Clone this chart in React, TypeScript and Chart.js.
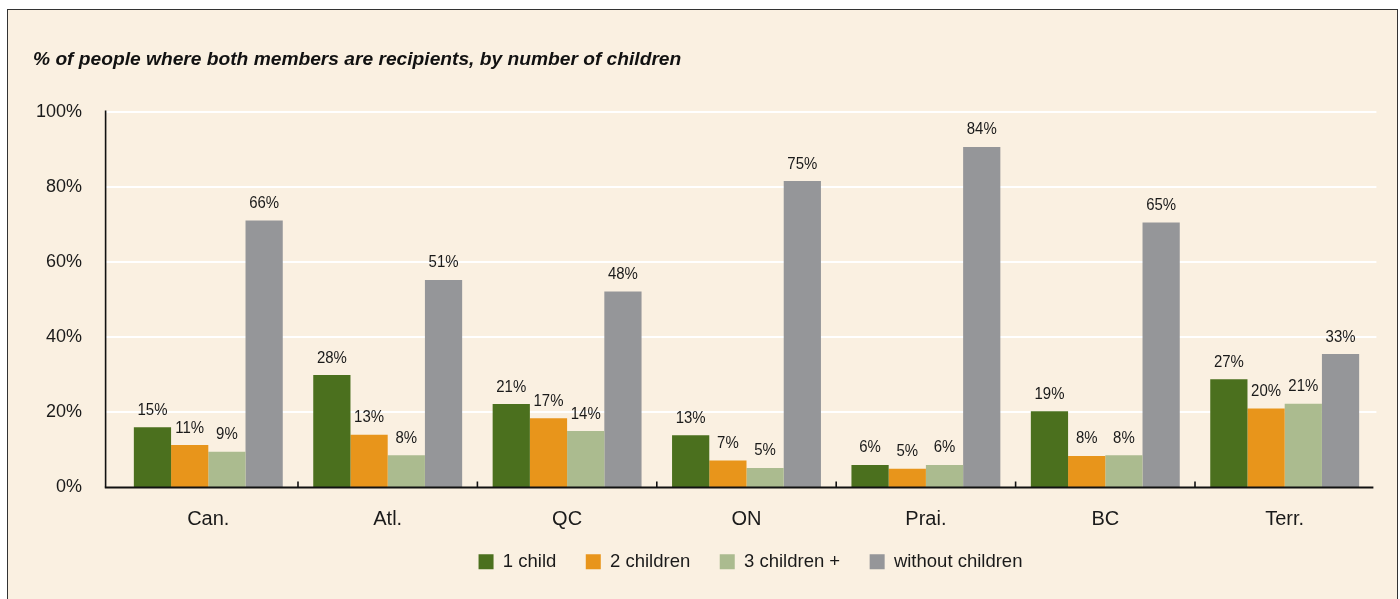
import React, { useEffect, useRef } from "react";
import { Chart, registerables } from "chart.js";

Chart.register(...registerables);

const title = "% of people where both members are recipients, by number of children";
const categories = ["Can.", "Atl.", "QC", "ON", "Prai.", "BC", "Terr."];
const seriesNames = ["1 child", "2 children", "3 children +", "without children"];
const seriesColors = ["#4B701E", "#E8951B", "#ABBB8F", "#959699"];

// bar heights as drawn in the picture (% of axis)
const oneChild = [16.0, 29.9, 22.2, 13.9, 6.0, 20.3, 28.8];
const twoChildren = [11.3, 14.0, 18.4, 7.2, 5.0, 8.4, 21.0];
const threePlus = [9.5, 8.6, 15.0, 5.2, 6.0, 8.6, 22.3];
const withoutChildren = [71.0, 55.2, 52.1, 81.5, 90.6, 70.5, 35.5];

// values printed above the bars
const oneChildLabels = [15, 28, 21, 13, 6, 19, 27];
const twoChildrenLabels = [11, 13, 17, 7, 5, 8, 20];
const threePlusLabels = [9, 8, 14, 5, 6, 8, 21];
const withoutChildrenLabels = [66, 51, 48, 75, 84, 65, 33];

const yTicks = [0, 20, 40, 60, 80, 100];

const seriesValues = [oneChild, twoChildren, threePlus, withoutChildren];
const seriesLabels = [oneChildLabels, twoChildrenLabels, threePlusLabels, withoutChildrenLabels];

const FONT = "'Liberation Sans', Arial, sans-serif";
const LABEL_FONT = "17px 'Liberation Sans', Arial, sans-serif";

const decorPlugin = {
  id: "decor",
  afterLayout(chart: any) {
    const lg = chart.legend;
    if (lg) {
      lg.top -= 10;
      lg.bottom -= 10;
      lg.left += 4;
      lg.right += 4;
    }
  },
  beforeDatasetsDraw(chart: any) {
    const { ctx, chartArea, scales } = chart;
    const y = scales.y;
    const axisX = chartArea.left - 13;
    ctx.save();
    ctx.strokeStyle = "#ffffff";
    ctx.lineWidth = 2;
    yTicks.forEach((v) => {
      if (v === 0) return;
      const py = Math.round(y.getPixelForValue(v));
      ctx.beginPath();
      ctx.moveTo(axisX, py);
      ctx.lineTo(chartArea.right + 2, py);
      ctx.stroke();
    });
    ctx.restore();
  },
  afterDatasetsDraw(chart: any) {
    const { ctx, chartArea, scales } = chart;
    const x = scales.x;
    const axisX = chartArea.left - 13;
    ctx.save();
    // value labels (slightly condensed, as in the original)
    ctx.font = LABEL_FONT;
    ctx.fillStyle = "#1a1a1a";
    ctx.textAlign = "center";
    ctx.textBaseline = "alphabetic";
    const sx = 0.88;
    chart.data.datasets.forEach((_ds: any, di: number) => {
      const meta = chart.getDatasetMeta(di);
      meta.data.forEach((bar: any, i: number) => {
        ctx.save();
        ctx.translate(bar.x, bar.y - 12.5);
        ctx.scale(sx, 1);
        ctx.fillText(seriesLabels[di][i] + "%", 0, 0);
        ctx.restore();
      });
    });
    // axes
    ctx.strokeStyle = "#111111";
    ctx.lineWidth = 1.6;
    ctx.beginPath();
    ctx.moveTo(axisX, chartArea.top - 1);
    ctx.lineTo(axisX, chartArea.bottom);
    ctx.stroke();
    ctx.lineWidth = 2;
    ctx.beginPath();
    ctx.moveTo(axisX - 0.8, chartArea.bottom);
    ctx.lineTo(chartArea.right - 1, chartArea.bottom);
    ctx.stroke();
    ctx.lineWidth = 1.6;
    for (let i = 0; i < categories.length - 1; i++) {
      const bx = (x.getPixelForValue(i) + x.getPixelForValue(i + 1)) / 2;
      ctx.beginPath();
      ctx.moveTo(bx, chartArea.bottom);
      ctx.lineTo(bx, chartArea.bottom - 6);
      ctx.stroke();
    }
    ctx.restore();
  },
};

export default function App() {
  const canvasRef = useRef<HTMLCanvasElement | null>(null);

  useEffect(() => {
    const canvas = canvasRef.current;
    if (!canvas) return;
    const chart = new Chart(canvas, {
      type: "bar",
      data: {
        labels: categories,
        datasets: seriesNames.map((name, i) => ({
          label: name,
          data: seriesValues[i],
          backgroundColor: seriesColors[i],
          borderWidth: 0,
          barPercentage: 1.0,
          categoryPercentage: 0.83,
        })),
      },
      options: {
        responsive: false,
        animation: false,
        devicePixelRatio: 1,
        layout: { padding: { left: 25, right: 22.6, top: 0, bottom: 8 } },
        plugins: {
          title: {
            display: true,
            text: title,
            align: "start",
            color: "#111111",
            font: { family: FONT, size: 19.2, style: "italic", weight: "bold" },
            padding: { top: 38.5, bottom: 40 },
          },
          legend: {
            display: true,
            position: "bottom",
            fullSize: false,
            labels: {
              boxWidth: 15,
              boxHeight: 15,
              padding: 29.5,
              color: "#1a1a1a",
              font: { family: FONT, size: 18.5 },
            },
          },
          tooltip: { enabled: false },
        },
        scales: {
          x: {
            grid: { display: false, drawTicks: false },
            border: { display: false },
            ticks: {
              color: "#1a1a1a",
              font: { family: FONT, size: 20 },
              padding: 20,
              maxRotation: 0,
            },
            afterFit(scale: any) {
              scale.height = 45.5;
            },
          },
          y: {
            min: 0,
            max: 100,
            grid: { display: false, drawTicks: false },
            border: { display: false },
            ticks: {
              stepSize: 20,
              color: "#1a1a1a",
              font: { family: FONT, size: 18 },
              padding: 36.6,
              callback: (v: any) => v + "%",
            },
            afterFit(scale: any) {
              scale.width = 85.6;
            },
          },
        },
      },
      plugins: [decorPlugin],
    } as any);
    return () => chart.destroy();
  }, []);

  return (
    <div
      style={{
        position: "absolute",
        left: 7,
        top: 9,
        width: 1389,
        height: 600,
        border: "1px solid #333",
        background: "#FAF0E1",
        overflow: "hidden",
      }}
    >
      <canvas ref={canvasRef} width={1389} height={589} style={{ display: "block", width: 1389, height: 589 }} />
    </div>
  );
}
